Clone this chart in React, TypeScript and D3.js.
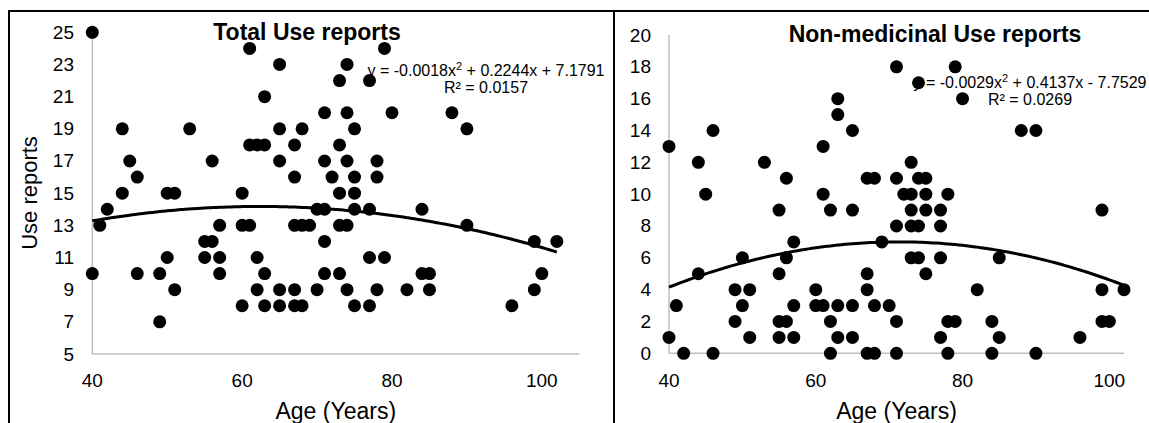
import React from "react"
import * as d3 from "d3"

// ages and use reports
const totalAge = [40, 40, 41, 42, 44, 44, 45, 46, 46, 49, 49, 50, 50, 51, 51, 53, 55, 56, 55, 56, 57, 57, 57, 60, 60, 61, 60, 61, 61, 62, 63, 62, 62, 63, 63, 63, 65, 65, 65, 65, 65, 67, 67, 67, 68, 69, 67, 67, 68, 68, 70, 70, 71, 71, 71, 71, 71, 72, 79, 74, 73, 77, 74, 80, 88, 90, 75, 73, 74, 78, 75, 78, 73, 75, 75, 77, 84, 73, 74, 90, 99, 102, 77, 79, 73, 84, 85, 100, 74, 78, 82, 85, 99, 75, 77, 96]
const totalUse = [25, 10, 13, 14, 19, 15, 17, 16, 10, 10, 7, 11, 15, 15, 9, 19, 12, 12, 11, 17, 13, 11, 10, 15, 13, 13, 8, 24, 18, 18, 18, 11, 9, 21, 10, 8, 23, 19, 17, 9, 8, 18, 16, 13, 13, 13, 9, 8, 8, 19, 9, 14, 14, 20, 17, 12, 10, 16, 24, 23, 22, 22, 20, 20, 20, 19, 19, 18, 17, 17, 16, 16, 15, 15, 14, 14, 14, 13, 13, 13, 12, 12, 11, 11, 10, 10, 10, 10, 9, 9, 9, 9, 9, 8, 8, 8]

const nonMedAge = [40, 40, 41, 42, 44, 44, 45, 46, 46, 49, 49, 50, 50, 51, 51, 53, 55, 55, 55, 56, 55, 56, 56, 57, 57, 57, 60, 60, 61, 61, 61, 62, 62, 62, 63, 63, 63, 63, 65, 65, 65, 65, 67, 68, 67, 67, 67, 68, 68, 69, 70, 71, 71, 71, 71, 71, 79, 74, 80, 88, 90, 73, 74, 75, 72, 73, 75, 78, 73, 75, 77, 99, 73, 74, 77, 73, 74, 77, 85, 75, 82, 99, 102, 78, 79, 84, 99, 100, 77, 85, 96, 78, 84, 90]
const nonMedUse = [13, 1, 3, 0, 12, 5, 10, 14, 0, 4, 2, 6, 3, 4, 1, 12, 9, 5, 2, 2, 1, 11, 6, 7, 3, 1, 4, 3, 3, 13, 10, 9, 2, 0, 16, 15, 3, 1, 14, 9, 3, 1, 11, 11, 5, 4, 0, 0, 3, 7, 3, 18, 11, 8, 2, 0, 18, 17, 16, 14, 14, 12, 11, 11, 10, 10, 10, 10, 9, 9, 9, 9, 8, 8, 8, 6, 6, 6, 6, 5, 4, 4, 4, 2, 2, 2, 2, 2, 1, 1, 1, 0, 0, 0]

// polynomial trendline coefficients (a x^2 + b x + c)
const totalFit = [-0.0018, 0.2244, 7.1791]
const nonMedFit = [-0.0029, 0.4137, -7.7529]

const xTicks = [40, 60, 80, 100]
const totalTicks = [5, 7, 9, 11, 13, 15, 17, 19, 21, 23, 25]
const nonMedTicks = [0, 2, 4, 6, 8, 10, 12, 14, 16, 18, 20]

const font = "'Liberation Sans', Arial, sans-serif"

function Panel(props: any) {
  const { ages, uses, fit, yTicks, xDomain, yDomain, xRange, yRange, title, titleX, titleY, eq, r2, eqX, eqY, yTickX } = props
  const x = d3.scaleLinear().domain(xDomain).range(xRange)
  const y = d3.scaleLinear().domain(yDomain).range(yRange)

  const lo = d3.min(ages) as number
  const hi = d3.max(ages) as number
  const pts = d3.range(lo, hi + 0.01, 0.5)
  const line = d3.line<number>()
    .x(d => x(d))
    .y(d => y(fit[0] * d * d + fit[1] * d + fit[2]))
    .curve(d3.curveBasis)

  return (
    <g fontFamily={font}>
      <line x1={x(xDomain[0])} x2={x(xDomain[0])} y1={y(yDomain[1])} y2={y(yDomain[0])} stroke="#bfbfbf" strokeWidth={1.5} />
      <line x1={x(xDomain[0])} x2={x(xDomain[1])} y1={y(yDomain[0])} y2={y(yDomain[0])} stroke="#bfbfbf" strokeWidth={1.5} />
      {yTicks.map((t: number) => (
        <text key={"y" + t} x={yTickX} y={y(t)} textAnchor="end" dominantBaseline="central" fontSize={19}>{t}</text>
      ))}
      {xTicks.map(t => (
        <text key={"x" + t} x={x(t)} y={387} textAnchor="middle" fontSize={19}>{t}</text>
      ))}
      {ages.map((a: number, i: number) => (
        <circle key={i} cx={x(a)} cy={y(uses[i])} r={6.5} fill="#000" />
      ))}
      <path d={line(pts) || ""} fill="none" stroke="#000" strokeWidth={3} />
      <text x={titleX} y={titleY} textAnchor="middle" fontSize={23} fontWeight="bold">{title}</text>
      <text x={eqX} y={eqY} textAnchor="middle" fontSize={16}>{eq}</text>
      <text x={eqX} y={eqY + 17} textAnchor="middle" fontSize={16}>{r2}</text>
      <text x={(xRange[0] + xRange[1]) / 2} y={419} textAnchor="middle" fontSize={23}>Age (Years)</text>
    </g>
  )
}

export default function App() {
  return (
    <svg width={1149} height={423} style={{ position: "absolute", left: 0, top: 0, background: "#fff" }}>
      <rect width={1149} height={423} fill="#fff" />
      <line x1={9} x2={1149} y1={11} y2={11} stroke="#000" strokeWidth={2} />
      <line x1={9} x2={9} y1={10} y2={423} stroke="#000" strokeWidth={2} />
      <line x1={614} x2={614} y1={10} y2={423} stroke="#000" strokeWidth={2} />

      <Panel
        ages={totalAge} uses={totalUse} fit={totalFit} yTicks={totalTicks}
        xDomain={[40, 105]} yDomain={[5, 25]} xRange={[92.3, 579.3]} yRange={[354, 32.3]}
        title="Total Use reports" titleX={307} titleY={40}
        eq={<>y = -0.0018x<tspan fontSize={11} dy={-6}>2</tspan><tspan dy={6}> + 0.2244x + 7.1791</tspan></>}
        r2="R² = 0.0157" eqX={486} eqY={76} yTickX={74}
      />
      <Panel
        ages={nonMedAge} uses={nonMedUse} fit={nonMedFit} yTicks={nonMedTicks}
        xDomain={[40, 102]} yDomain={[0, 20]} xRange={[669, 1124]} yRange={[353.3, 35]}
        title="Non-medicinal Use reports" titleX={935} titleY={42}
        eq={<>y = -0.0029x<tspan fontSize={11} dy={-6}>2</tspan><tspan dy={6}> + 0.4137x - 7.7529</tspan></>}
        r2="R² = 0.0269" eqX={1030} eqY={88} yTickX={651}
      />

      <text x={37} y={193} transform="rotate(-90,37,193)" textAnchor="middle" fontFamily={font} fontSize={22}>Use reports</text>
    </svg>
  )
}
